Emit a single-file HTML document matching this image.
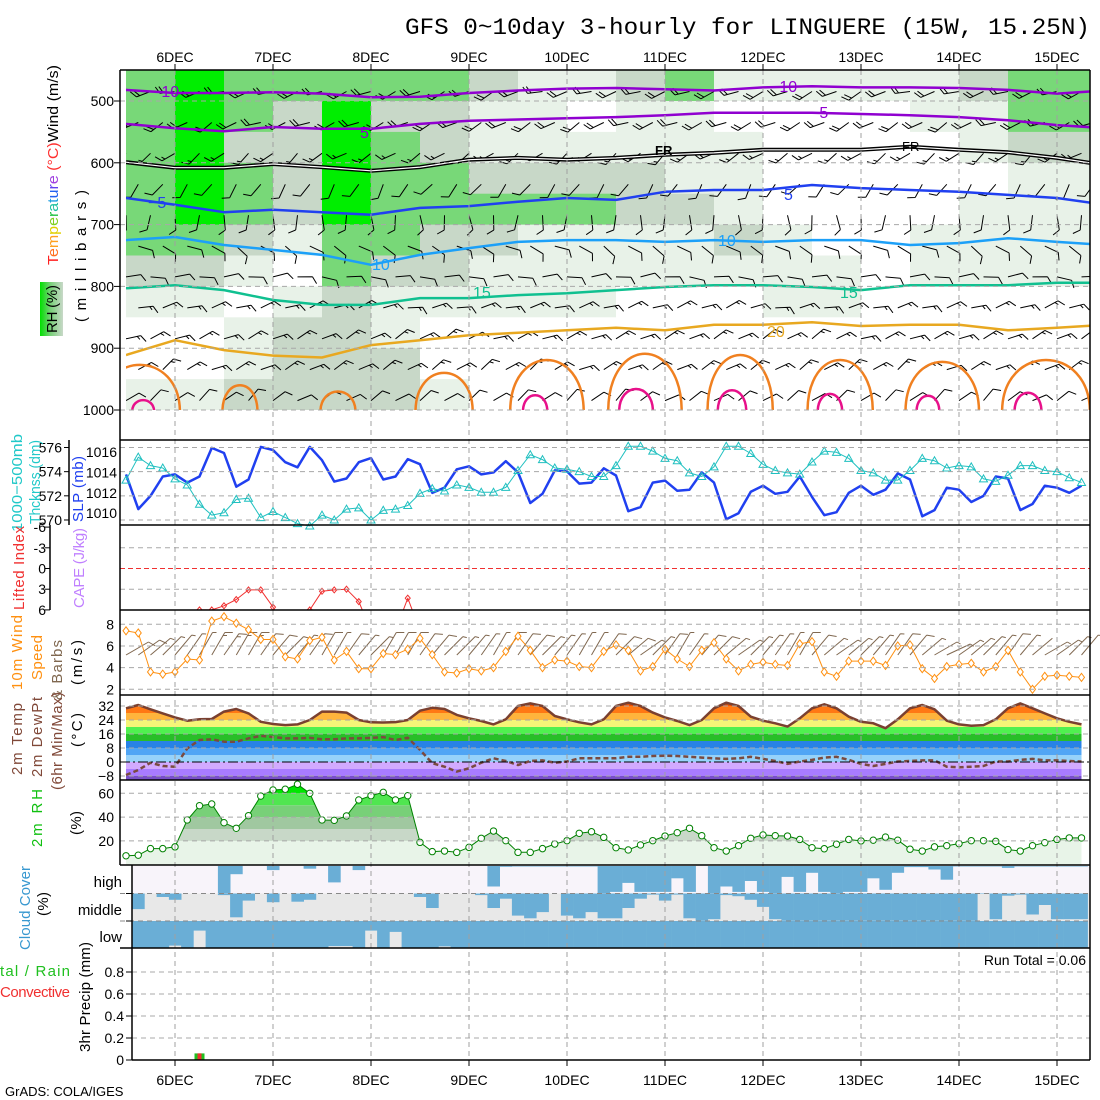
<!DOCTYPE html>
<html><head><meta charset="utf-8"><title>GFS meteogram LINGUERE</title>
<style>
html,body{margin:0;padding:0;background:#fff;}
svg{display:block;font-family:"Liberation Sans",sans-serif;}
.tk{font-size:14px;fill:#000;}
.lb{font-size:15px;}
</style></head>
<body>
<svg id="chart" width="1100" height="1100" viewBox="0 0 1100 1100" xmlns="http://www.w3.org/2000/svg">
<defs>
<clipPath id="clipTop"><rect x="126" y="70" width="964" height="340"/></clipPath>
<clipPath id="clipLI"><rect x="120" y="525" width="970" height="85"/></clipPath>
<linearGradient id="rhLeg" x1="0" x2="1" y1="0" y2="0"><stop offset="0" stop-color="#00e000"/><stop offset="0.45" stop-color="#78d078"/><stop offset="1" stop-color="#c8d8c8"/></linearGradient>
</defs>
<g id="layerBg"></g>
<g id="layerGrid"></g>
<g id="layerData"></g>
<g id="layerAxes"></g>

<text x="405" y="34" font-family="Liberation Mono, monospace" font-size="23" textLength="685" lengthAdjust="spacingAndGlyphs">GFS 0~10day 3-hourly for LINGUERE (15W, 15.25N)</text>

<text transform="translate(58,265) rotate(-90)" class="lb" textLength="200" lengthAdjust="spacingAndGlyphs"><tspan fill="#ff2020">T</tspan><tspan fill="#ff7020">e</tspan><tspan fill="#ffa020">m</tspan><tspan fill="#e0d000">p</tspan><tspan fill="#80d020">e</tspan><tspan fill="#20c040">r</tspan><tspan fill="#20c0a0">a</tspan><tspan fill="#20a0e0">t</tspan><tspan fill="#2060f0">u</tspan><tspan fill="#6040f0">r</tspan><tspan fill="#a040e0">e</tspan><tspan fill="#ff3030"> (°C)</tspan><tspan fill="#000">Wind (m/s)</tspan></text>
<text transform="translate(86,322) rotate(-90)" class="lb" textLength="132" lengthAdjust="spacing">( m i l l i b a r s )</text>
<rect x="40" y="282" width="23" height="54" fill="url(#rhLeg)"/>
<text transform="translate(57,333) rotate(-90)" class="lb" textLength="48">RH (%)</text>

<text transform="translate(22,532) rotate(-90)" class="lb" fill="#20c8c8" textLength="98" lengthAdjust="spacingAndGlyphs">1000−500mb</text>
<text transform="translate(40,524) rotate(-90)" class="lb" fill="#20c8c8" textLength="84" lengthAdjust="spacingAndGlyphs">Thcknss (dm)</text>
<text transform="translate(83,522) rotate(-90)" class="lb" fill="#2040f0" textLength="66">SLP (mb)</text>

<text transform="translate(24,610) rotate(-90)" class="lb" fill="#f03030" textLength="84">Lifted Index</text>
<text transform="translate(84,608) rotate(-90)" class="lb" fill="#c080ff" textLength="80">CAPE (J/kg)</text>

<text transform="translate(22,690) rotate(-90)" class="lb" fill="#ff9010" textLength="75">10m Wind</text>
<text transform="translate(42,680) rotate(-90)" class="lb" fill="#ff9010" textLength="45">Speed</text>
<text transform="translate(62,700) rotate(-90)" class="lb" fill="#806850" textLength="60">&amp; Barbs</text>
<text transform="translate(82,685) rotate(-90)" class="lb" textLength="45">(m/s)</text>

<text transform="translate(22,775) rotate(-90)" class="lb" fill="#804838" textLength="72">2m Temp</text>
<text transform="translate(42,777) rotate(-90)" class="lb" fill="#804838" textLength="80">2m DewPt</text>
<text transform="translate(62,790) rotate(-90)" class="lb" fill="#804838" textLength="98">(6hr Min/Max)</text>
<text transform="translate(82,747) rotate(-90)" class="lb" textLength="34">(°C)</text>

<text transform="translate(42,847) rotate(-90)" class="lb" fill="#10c010" textLength="58">2m RH</text>
<text transform="translate(81,835) rotate(-90)" class="lb" textLength="24">(%)</text>

<text transform="translate(30,950) rotate(-90)" class="lb" fill="#3898d0" textLength="84">Cloud Cover</text>
<text transform="translate(48,916) rotate(-90)" class="lb" textLength="24">(%)</text>
<text x="122" y="887" class="lb" text-anchor="end">high</text>
<text x="122" y="915" class="lb" text-anchor="end">middle</text>
<text x="122" y="942" class="lb" text-anchor="end">low</text>

<text x="0" y="976" class="lb" fill="#20c020" textLength="70">tal / Rain</text>
<text x="0" y="997" class="lb" fill="#f03030" textLength="70">Convective</text>
<text transform="translate(90,1052) rotate(-90)" class="lb" textLength="110">3hr Precip (mm)</text>
<text x="1086" y="965" class="tk" text-anchor="end">Run Total = 0.06</text>
<text x="5" y="1096" font-size="13">GrADS: COLA/IGES</text>

<g font-size="16">
<text x="152" y="97" fill="#9000d0">−10</text>
<text x="770" y="92" fill="#9000d0">−10</text>
<text x="360" y="138" fill="#9000d0">5</text>
<text x="810" y="118" fill="#9000d0">−5</text>
<text x="655" y="155" font-size="13" font-weight="bold" fill="#000">FR</text>
<text x="902" y="151" font-size="13" fill="#000">FR</text>
<text x="148" y="208" fill="#2040f0">−5</text>
<text x="784" y="200" fill="#2040f0">5</text>
<text x="372" y="270" fill="#1ca0f8">10</text>
<text x="718" y="246" fill="#1ca0f8">10</text>
<text x="473" y="298" fill="#10c090">15</text>
<text x="840" y="298" fill="#10c090">15</text>
<text x="767" y="337" fill="#e8a820">20</text>
</g>
</svg>

<script>
// ---------- DATA ----------
const days = ["6DEC","7DEC","8DEC","9DEC","10DEC","11DEC","12DEC","13DEC","14DEC","15DEC"];
const pressureTicks = [500,600,700,800,900,1000];
const thickTicks = [576,574,572,570];
const slpTicks = [1016,1014,1012,1010];
const liTicks = [-6,-3,0,3,6];
const liTickLabels = ["-6","-3","0","3","6"];
const windTicks = [8,6,4,2];
const tempTicks = [32,24,16,8,0,-8];
const rhTicks = [60,40,20];
const precipTicks = [0,0.2,0.4,0.6,0.8];
const precipTickLabels = ["0","0.2","0.4","0.6","0.8"];

const thickness = [573.3,575.2,574.5,574.3,573.4,572.9,571.3,570.4,570.6,571.7,571.8,570.2,570.7,570.2,569.7,569.5,570.4,570.0,570.9,571.0,570.0,570.8,570.9,571.2,572.2,572.6,572.4,572.9,572.7,572.3,572.3,572.7,574.1,575.4,575.0,574.3,574.2,574.0,573.6,573.6,574.5,576.1,576.1,575.7,575.1,574.9,573.9,573.6,574.4,576.1,576.1,575.5,574.6,574.1,573.9,573.8,574.8,575.7,575.6,575.1,574.1,573.9,573.3,573.3,574.1,575.1,574.9,574.3,574.5,574.4,573.4,573.2,573.7,574.5,574.5,574.1,574.0,573.5,573.1];
const slp = [1013.8,1010.4,1011.7,1013.6,1013.8,1013.0,1013.6,1016.4,1015.9,1012.6,1013.3,1016.5,1016.2,1015.0,1014.5,1016.5,1015.2,1013.1,1013.4,1015.0,1015.4,1013.3,1013.6,1015.3,1014.8,1012.0,1012.5,1014.3,1014.6,1013.8,1014.0,1015.1,1014.0,1011.0,1011.9,1014.2,1014.1,1012.9,1013.0,1014.4,1013.7,1010.2,1010.6,1013.0,1013.2,1012.2,1012.3,1014.0,1013.0,1009.4,1010.0,1012.1,1012.7,1011.9,1012.1,1013.6,1011.6,1009.8,1010.1,1012.0,1012.7,1011.8,1012.3,1013.9,1013.3,1009.7,1010.3,1012.5,1012.3,1011.1,1011.7,1013.6,1013.4,1010.3,1010.9,1012.7,1012.5,1012.0,1012.7];
const liftedIndex = [9,9,9,9,9,9,6,6,5.4,4.5,3.1,3.1,5.6,9,9,6,3.3,3.1,3.0,4.8,9,9,9,4.3,9,9,9,9,9,9,9,9,9,9,9,9,9,9,9,9,9,9,9,9,9,9,9,9,9,9,9,9,9,9,9,9,9,9,9,9,9,9,9,9,9,9,9,9,9,9,9,9,9,9,9,9,9,9,9];
const wind10 = [7.4,7.2,3.6,3.4,3.6,4.8,4.7,8.3,8.7,8.1,7.5,6.6,6.6,5.0,4.8,6.5,6.8,4.7,5.5,3.9,3.9,5.3,5.2,5.7,6.7,5.2,3.6,3.5,3.9,3.7,4.0,5.5,6.9,5.6,4.0,4.7,4.6,4.1,4.0,5.5,6.1,5.6,3.7,4.1,5.7,4.8,4.1,5.6,6.3,4.8,3.7,4.3,4.5,4.3,4.2,6.2,6.4,3.6,3.2,4.6,4.6,4.6,4.2,6.0,6.1,3.9,3.0,4.1,4.3,4.4,3.6,4.1,5.6,3.6,2.0,3.2,3.3,3.2,3.1];
const wind10Dir = [60,55,50,45,40,35,30,30,35,30,30,35,40,45,40,35,30,30,35,40,45,30,30,30,35,40,45,45,40,35,30,30,35,40,45,40,35,30,30,35,45,50,55,45,35,30,35,40,45,50,55,45,40,35,30,30,40,50,55,50,45,40,35,35,40,50,60,65,55,50,45,40,35,40,50,60,55,45,40];
const temp2m = [30.7,32.6,30.1,27.8,25.5,23.6,24.4,24.6,28.8,30.3,27.8,23.0,21.7,21.1,21.5,24.0,28.8,28.8,28.2,24.0,22.7,22.6,22.8,24.0,29.3,31.0,30.3,26.9,25.0,23.4,21.5,24.4,32.0,33.5,32.0,26.3,24.4,22.7,21.5,24.4,32.0,33.9,32.0,28.2,25.5,23.4,21.1,24.0,30.7,33.9,32.0,25.9,23.6,22.1,20.2,25.0,30.7,33.0,30.7,25.9,23.0,22.1,19.3,24.4,30.7,32.6,30.1,23.6,21.5,20.7,21.1,24.4,30.7,33.5,30.7,27.8,25.0,23.0,21.5];
const dew2m = [-7.4,-4.6,-0.4,-2.3,-2.7,7.8,12.6,13.0,11.6,11.6,13.5,14.9,14.3,13.5,13.5,13.8,13.0,13.0,13.5,13.5,13.8,14.2,12.6,13.9,6.9,-0.7,-2.7,-5.5,-3.6,-0.4,2.1,0.6,-1.7,0.6,0.9,-0.4,0.3,2.1,2.1,2.1,2.1,3.0,3.0,3.4,3.6,3.4,3.0,2.5,2.1,1.8,2.1,3.0,1.8,0.6,-1.1,0.3,1.2,2.5,3.0,1.2,-1.1,-2.3,-1.1,0.3,0.6,0.9,0.9,-2.7,-3.0,-2.7,-2.3,0.3,0.3,1.2,1.8,0.9,0.9,0.6,0.3];
const rh2m = [7.5,8,13.5,13.5,15,37.6,49.6,51,35.3,30.6,41.2,57.7,62.8,63.4,67.6,60,37.6,37.3,41,54.4,58,60.8,54.4,58,18.8,11,11.5,10.4,14.6,22.2,28.3,20.2,10.4,10.4,13.5,17.4,20.2,26.4,27.7,23,14.3,12.4,16.6,20.2,24.1,26.9,30.6,24.4,14.3,11.5,16,22.2,25,24.4,24.1,21.2,14.3,13.4,17.2,21.2,20,20.6,23.2,20.6,13,11.5,15,16,17.7,20.2,20.2,19.6,12.7,11.5,16,18.5,21.2,22.5,22.5];
const cloudHigh = [0,0,0,0,0,0,0,0,100,30,0,0,15,0,0,10,0,60,0,15,0,0,0,0,0,0,0,0,0,0,75,3,2,2,2,2,2,2,2,100,95,62,95,95,95,45,95,0,100,75,95,55,95,100,40,95,25,95,100,95,95,45,87,25,4,4,13,50,2,2,2,2,7,2,2,2,2,2,2];
const cloudMid = [0,57,0,13,23,0,0,0,6,87,26,0,32,0,30,23,0,0,0,0,0,0,0,0,13,53,0,0,0,6,53,19,81,91,68,0,81,91,68,91,91,53,19,4,26,4,91,100,94,6,10,23,49,94,100,100,100,100,100,100,100,100,100,100,100,100,100,100,100,100,2,94,8,4,77,42,94,94,94];
const cloudLow = [0,100,100,100,90,100,35,100,100,100,100,100,100,100,100,100,100,92,92,100,35,100,40,100,100,100,93,100,100,100,100,100,100,100,100,100,100,100,100,100,100,100,100,100,100,100,100,100,100,100,100,100,100,100,100,100,100,100,100,100,100,100,100,100,100,100,100,100,100,100,100,100,100,100,100,100,100,100,100];
const precipTotal = [0,0,0,0,0,0,0.06,0,0,0,0,0,0,0,0,0,0,0,0,0,0,0,0,0,0,0,0,0,0,0,0,0,0,0,0,0,0,0,0,0,0,0,0,0,0,0,0,0,0,0,0,0,0,0,0,0,0,0,0,0,0,0,0,0,0,0,0,0,0,0,0,0,0,0,0,0,0,0,0];
const precipConv = [0,0,0,0,0,0,0.06,0,0,0,0,0,0,0,0,0,0,0,0,0,0,0,0,0,0,0,0,0,0,0,0,0,0,0,0,0,0,0,0,0,0,0,0,0,0,0,0,0,0,0,0,0,0,0,0,0,0,0,0,0,0,0,0,0,0,0,0,0,0,0,0,0,0,0,0,0,0,0,0];

const rhRowsTop = [450,500,550,600,650,700,750,800,850,900,950];
const rhGrid = [
 [80,80,80,80,80,80,60,40,20,20,40],
 [95,95,95,95,95,80,60,40,20,20,40],
 [80,80,60,80,80,60,40,20,40,40,60],
 [80,60,60,60,60,40,20,40,60,60,60],
 [80,95,95,95,95,80,80,60,60,60,60],
 [80,60,80,80,80,80,60,40,40,60,60],
 [80,60,60,80,80,60,60,40,20,20,40],
 [60,40,40,60,80,60,40,40,20,20,20],
 [40,40,40,60,80,40,40,40,20,20,20],
 [40,20,40,60,80,40,40,40,20,20,20],
 [60,40,40,60,60,40,40,20,20,20,20],
 [80,40,40,40,60,40,40,20,20,20,20],
 [40,20,40,40,40,60,40,20,20,20,20],
 [40,20,20,20,20,40,40,40,20,20,20],
 [40,20,20,20,20,20,40,40,20,20,20],
 [40,20,20,20,20,20,20,20,20,20,20],
 [40,40,20,20,20,40,40,20,20,20,20],
 [60,40,40,20,40,40,40,20,20,20,20],
 [80,80,60,40,40,40,40,20,20,20,20],
 [80,80,60,40,40,40,40,20,20,20,20]];
const isoMinus10 = [482,487,487,486,488,494,493,487,483,480,479,481,483,478,476,478,478,479,482,488,483];
const isoMinus5 = [537,544,549,542,545,545,537,532,530,528,526,523,519,519,519,521,523,526,531,539,544];
const isoZero = [599,608,608,602,607,613,607,595,592,595,592,587,584,579,579,579,574,579,583,592,604];
const isoPlus5 = [657,668,680,676,680,684,673,670,663,657,660,647,644,644,636,641,644,647,652,657,668];
const isoPlus10 = [725,720,733,741,749,765,749,738,728,725,725,728,725,728,725,725,733,730,722,728,733];
const isoPlus15 = [803,798,806,822,830,830,819,819,814,811,806,801,798,798,801,806,798,798,798,794,794];
const isoPlus20 = [911,887,903,912,915,895,887,879,875,871,867,871,862,862,858,864,862,862,871,867,862];
const cell25Hour = [-8.6,15.9,39.9,65.9,91.1,115.1,138.4,162.9,187.9,213.3];
const cell25Dur = [19.6,8.6,8.6,14,18,18,16,16,18,21.5];
const cell25Top = [927,960,970,940,919,909,911,919,922,919];
const cell30Hour = [-7.8,88.2,112.9,136.4,160.4,184.4,208.9];
const cell30Dur = [5.4,6,8.3,7,6,5.6,6.6];
const cell30Top = [984,976,966,968,974,977,972];
const barbLevels = [475,525,575,625,675,725,775,825,875,925,975];
const barbDirLevel = [250,245,235,215,180,120,90,75,65,60,55];
const barbSpdLevel = [10,10,8,6,5,5,6,8,9,8,7];

// ---------- SCALES ----------
const NS = "http://www.w3.org/2000/svg";
const svg = document.getElementById('chart');
const gBg = document.getElementById('layerBg'), gGrid = document.getElementById('layerGrid'),
      gData = document.getElementById('layerData'), gAx = document.getElementById('layerAxes');
const X0 = 126, STEP = 12.25, DAYX = 98, DAY0X = 175, LEFT = 120, RIGHT = 1090;
const xi = i => X0 + STEP * i;
const xh = h => DAY0X + h * DAYX / 24;
const yP = p => 101 + (p - 500) * 0.618;
const yTh = v => 447.5 + (576 - v) * 12.08;
const ySlp = v => 452 + (1016 - v) * 10.2;
const yLI = v => 568.5 + v * 6.9;
const yW = v => 624.3 + (8 - v) * 10.83;
const yT = v => 706 + (32 - v) * 1.75;
const yR = v => 793.3 + (60 - v) * 1.19;
const yPr = v => 1060 - v * 110;

function mk(tag, attrs, parent) {
  const e = document.createElementNS(NS, tag);
  for (const k in attrs) e.setAttribute(k, attrs[k]);
  parent.appendChild(e);
  return e;
}
const linePath = (arr, yf) => arr.map((v, i) => (i ? 'L' : 'M') + xi(i).toFixed(1) + ',' + yf(v).toFixed(1)).join('');

// ---------- BACKGROUNDS ----------
const rhColor = v => v >= 90 ? '#00ee00' : v >= 70 ? '#78d878' : v >= 50 ? '#c8d8c8' : v >= 30 ? '#e8f2e8' : '#ffffff';
const gRH = mk('g', {'clip-path': 'url(#clipTop)'}, gBg);


rhGrid.forEach((col, c) => {
  col.forEach((v, r) => {
    const x = xh(-12 + 12 * c);
    const cell = mk('rect', {x: x.toFixed(1), y: yP(rhRowsTop[r]).toFixed(1), width: (DAYX / 2 + 0.5).toFixed(1), height: (yP(rhRowsTop[r] + 50) - yP(rhRowsTop[r]) + 0.5).toFixed(1), fill: rhColor(v)}, gRH);
    
    
  });
});

const rowTops = [866, 893.5, 921];
const rowH = 27.3;
const rowBg = ['#f8f4fa', '#e8e8e8', '#e8e8e8'];
const cloudSets = [cloudHigh, cloudMid, cloudLow];
const cloudNames = ['cloud-high', 'cloud-middle', 'cloud-low'];
rowTops.forEach((t, r) => {
  const bg = mk('rect', {x: 132, y: t, width: RIGHT - 132, height: rowH, fill: rowBg[r]}, gBg);
  
  
  cloudSets[r].forEach((v, i) => {
    if (i === 0 || v <= 0) return;
    const x0 = Math.max(132, xi(i) - STEP / 2), x1 = Math.min(RIGHT, xi(i) + STEP / 2 + 0.3);
    const b = mk('rect', {x: x0.toFixed(1), y: t, width: (x1 - x0).toFixed(1), height: (rowH * v / 100).toFixed(1), fill: '#6aaed6'}, gData);
    
    
  });
});

// ---------- GRID ----------
function hgrid(y, x0, col, dash, name) {
  const l = mk('line', {x1: x0, x2: RIGHT, y1: y, y2: y, stroke: col || '#a8a8a8', 'stroke-dasharray': dash || '5,4', 'stroke-width': 1}, gGrid);
  
  
}
pressureTicks.forEach(p => hgrid(yP(p), LEFT, null, null, 'pressure-gridline'));
thickTicks.forEach(v => hgrid(yTh(v), LEFT, null, null, 'thickness-gridline'));
[-3, 3].forEach(v => hgrid(yLI(v), LEFT, null, null, 'li-gridline'));
windTicks.forEach(v => hgrid(yW(v), LEFT, null, null, 'wind-gridline'));
rhTicks.forEach(v => hgrid(yR(v), LEFT, null, null, 'rh-gridline'));
[893.5, 921].forEach(v => hgrid(v, 120, '#888', null, 'cloud-gridline'));
precipTicks.slice(1).forEach(v => hgrid(yPr(v), 132, null, null, 'precip-gridline'));

// ---------- TEMP FILL ----------
const tBands = [[-99,-8,'#7850c8'],[-8,-4,'#a87cff'],[-4,0,'#d2aaff'],[0,4,'#96d2fa'],[4,8,'#50a5f5'],[8,12,'#2882e6'],[12,16,'#28be28'],[16,20,'#50f050'],[20,24,'#f5f578'],[24,28,'#ffb43c'],[28,32,'#ff7814'],[32,99,'#f05000']];
const clipT = mk('clipPath', {id: 'clipTemp'}, svg.querySelector('defs'));
mk('path', {d: linePath(temp2m, yT) + 'L' + xi(temp2m.length - 1) + ',780L' + xi(0) + ',780Z'}, clipT);
const gTF = mk('g', {'clip-path': 'url(#clipTemp)'}, gData);


tBands.forEach(b => {
  const y1 = Math.max(696, yT(Math.min(b[1], 40))), y2 = Math.min(780, yT(Math.max(b[0], -12)));
  const r = mk('rect', {x: xi(0), y: y1.toFixed(1), width: xi(temp2m.length - 1) - xi(0), height: (y2 - y1).toFixed(1), fill: b[2]}, gTF);
  
  
});
tempTicks.forEach(v => hgrid(yT(v), LEFT, v === 0 ? '#000' : '#a8a8a8', v === 0 ? '10,3,2,3' : null, 'temp-gridline'));

// ---------- RH FILL ----------
const rBands = [[0,20,'#e8f4e8'],[20,30,'#c8d8c8'],[30,40,'#a0c8a0'],[40,50,'#78d078'],[50,60,'#50e650'],[60,100,'#00e600']];
const clipR = mk('clipPath', {id: 'clipRH'}, svg.querySelector('defs'));
mk('path', {d: linePath(rh2m, yR) + 'L' + xi(rh2m.length - 1) + ',865L' + xi(0) + ',865Z'}, clipR);
const gRF = mk('g', {'clip-path': 'url(#clipRH)'}, gData);


rBands.forEach(b => {
  const y1 = Math.max(780, yR(b[1])), y2 = Math.min(865, yR(b[0]));
  const r = mk('rect', {x: xi(0), y: y1.toFixed(1), width: xi(rh2m.length - 1) - xi(0), height: (y2 - y1).toFixed(1), fill: b[2]}, gRF);
  
  
});

days.forEach((d, k) => {
  const l = mk('line', {x1: DAY0X + DAYX * k, x2: DAY0X + DAYX * k, y1: 70, y2: 1060, stroke: '#a0a0a0', 'stroke-dasharray': '5,4'}, gGrid);
  
  
});
svg.insertBefore(gGrid, gAx);

// ---------- CROSS-SECTION LINES ----------
const gTop = mk('g', {'clip-path': 'url(#clipTop)'}, gData);


function barb(x, y, dir, spd, L, col, parent, name) {
  const a = dir * Math.PI / 180;
  const ux = Math.sin(a), uy = -Math.cos(a);
  const tx = x + ux * L, ty = y + uy * L;
  let d = 'M' + x.toFixed(1) + ',' + y.toFixed(1) + 'L' + tx.toFixed(1) + ',' + ty.toFixed(1);
  const fa = a + Math.PI / 3;
  const fx = Math.sin(fa), fy = -Math.cos(fa);
  let n = spd / 5, k = 0;
  while (n >= 0.5) {
    const fl = n >= 1 ? 8 : 4;
    const bx = tx - ux * k * 3.5, by = ty - uy * k * 3.5;
    d += 'M' + bx.toFixed(1) + ',' + by.toFixed(1) + 'l' + (fx * fl).toFixed(1) + ',' + (fy * fl).toFixed(1);
    n -= 1; k++;
  }
  const p = mk('path', {d: d, stroke: col, fill: 'none', 'stroke-width': 1}, parent);
  
  
}
barbLevels.forEach((p, r) => {
  for (let i = (r % 2); i < 80; i += 2) {
    barb(xi(i), yP(p) + 6, barbDirLevel[r] + ((i * 37 + r * 11) % 30 - 15), barbSpdLevel[r], 15, '#000', gTop, 'upper-wind-barb');
  }
});
function iso(arr, col, w, name) {
  const d = arr.map((p, k) => (k ? 'L' : 'M') + xh(-12 + 12 * k).toFixed(1) + ',' + yP(p).toFixed(1)).join('');
  const e = mk('path', {d: d, stroke: col, 'stroke-width': w, fill: 'none', 'stroke-linejoin': 'round'}, gTop);
  
  
}
iso(isoMinus10, '#9000d0', 2.5, 'isotherm-minus10');
iso(isoMinus5, '#9000d0', 2.5, 'isotherm-minus5');
iso(isoZero, '#000', 4, 'isotherm-freezing');
iso(isoZero, '#fff', 1.2, 'isotherm-freezing-inner');
iso(isoPlus5, '#2040f0', 2.5, 'isotherm-plus5');
iso(isoPlus10, '#1ca0f8', 2.5, 'isotherm-plus10');
iso(isoPlus15, '#10c090', 2.5, 'isotherm-plus15');
iso(isoPlus20, '#e8a820', 2.5, 'isotherm-plus20');
function cells(hours, durs, tops, col, name) {
  hours.forEach((h, k) => {
    const x0 = xh(h - durs[k] / 2), x1 = xh(h + durs[k] / 2);
    const yb = yP(1000) + 2, yc = yb + (yP(tops[k]) - yb) / 0.75;
    const e = mk('path', {d: 'M' + x0.toFixed(1) + ',' + yb + 'C' + x0.toFixed(1) + ',' + yc.toFixed(1) + ' ' + x1.toFixed(1) + ',' + yc.toFixed(1) + ' ' + x1.toFixed(1) + ',' + yb, stroke: col, 'stroke-width': 2.5, fill: 'none'}, gTop);
    
    
  });
}
cells(cell25Hour, cell25Dur, cell25Top, '#f08020', 'isotherm-plus25-cell');
cells(cell30Hour, cell30Dur, cell30Top, '#e8108a', 'isotherm-plus30-cell');

// ---------- SERIES ----------
function series(arr, yf, col, w, name, parent) {
  const e = mk('path', {d: linePath(arr, yf), stroke: col, 'stroke-width': w, fill: 'none', 'stroke-linejoin': 'round'}, parent || gData);
  
  
  return e;
}
series(slp, ySlp, '#2040f0', 2.5, 'slp-line');
series(thickness, yTh, '#20c0c0', 1, 'thickness-line');
thickness.forEach((v, i) => {
  const x = xi(i), y = yTh(v);
  const m = mk('path', {d: `M${x - 4},${y + 3}L${x},${y - 4}L${x + 4},${y + 3}Z`, stroke: '#20c0c0', fill: 'none', 'stroke-width': 1}, gData);
  
  
});
const gLI = mk('g', {'clip-path': 'url(#clipLI)'}, gData);


series(liftedIndex, yLI, '#f03030', 1, 'lifted-index-line', gLI);
liftedIndex.forEach((v, i) => {
  if (v > 6) return;
  const x = xi(i), y = yLI(v);
  const m = mk('path', {d: `M${x},${y - 3}L${x + 2.5},${y}L${x},${y + 3}L${x - 2.5},${y}Z`, stroke: '#f03030', fill: 'none'}, gLI);
  
  
});
const liZero = mk('line', {x1: LEFT, x2: RIGHT, y1: yLI(0), y2: yLI(0), stroke: '#f03030', 'stroke-dasharray': '5,3'}, gData);



wind10.forEach((v, i) => barb(xi(i), 655, wind10Dir[i], v, 26, '#806850', gData, 'wind10-barb'));
series(wind10, yW, '#ff9010', 1, 'wind10-speed-line');
wind10.forEach((v, i) => {
  const x = xi(i), y = yW(v);
  const m = mk('path', {d: `M${x},${y - 4}L${x + 3},${y}L${x},${y + 4}L${x - 3},${y}Z`, stroke: '#ff9010', fill: '#fff'}, gData);
  
  
});

series(temp2m, yT, '#7a4030', 2.5, 'temp2m-line');
series(dew2m, yT, '#7a4a40', 2.5, 'dewpoint-line').setAttribute('stroke-dasharray', '5,3');

series(rh2m, yR, '#008000', 1, 'rh2m-line');
rh2m.forEach((v, i) => {
  const c = mk('circle', {cx: xi(i), cy: yR(v), r: 3.2, fill: '#fff', stroke: '#008000'}, gData);
  
  
});

precipTotal.forEach((v, i) => {
  if (v <= 0) return;
  const b = mk('rect', {x: xi(i) - 5, y: yPr(v), width: 10, height: 1060 - yPr(v), fill: '#20c020'}, gData);
  
  
  const c = mk('rect', {x: xi(i) - 2, y: yPr(precipConv[i]), width: 4, height: 1060 - yPr(precipConv[i]), fill: '#f03030'}, gData);
  
  
});

// ---------- AXES / FRAMES ----------
function ln(x1, y1, x2, y2, name, w) {
  const l = mk('line', {x1: x1, y1: y1, x2: x2, y2: y2, stroke: '#000', 'stroke-width': w || 1.5}, gAx);
  
  
}
function tx(x, y, s, name, anchor, col) {
  const t = mk('text', {x: x, y: y, class: 'tk', 'text-anchor': anchor || 'end', fill: col || '#000'}, gAx);
  t.textContent = s;
  
  
}
ln(LEFT, 70, RIGHT, 70, 'frame-top');
ln(LEFT, 70, LEFT, 865, 'frame-left');
ln(132, 865, 132, 1060, 'frame-left-lower');
ln(RIGHT, 70, RIGHT, 1060, 'frame-right');
[440, 525, 610, 695, 780, 865, 948].forEach(y => ln(LEFT, y, RIGHT, y, 'panel-divider'));
ln(132, 1060, RIGHT, 1060, 'frame-bottom');
ln(69, 440, 69, 525, 'thickness-axis');
ln(50, 525, 50, 610, 'li-axis');
days.forEach((d, k) => {
  const x = DAY0X + DAYX * k;
  tx(x, 62, d, 'date-label-top', 'middle');
  tx(x, 1085, d, 'date-label-bottom', 'middle');
  ln(x, 64, x, 70, 'date-tick-top', 1);
  ln(x, 1060, x, 1066, 'date-tick-bottom', 1);
});
pressureTicks.forEach(p => { tx(114, yP(p) + 5, String(p), 'pressure-tick-label'); ln(114, yP(p), LEFT, yP(p), 'pressure-tick', 1); });
thickTicks.forEach(v => { tx(62, yTh(v) + 5, String(v), 'thickness-tick-label'); ln(64, yTh(v), 69, yTh(v), 'thickness-tick', 1); });
slpTicks.forEach(v => tx(117, ySlp(v) + 5, String(v), 'slp-tick-label'));
liTicks.forEach((v, k) => { tx(46, yLI(v) + 5, liTickLabels[k], 'li-tick-label'); ln(45, yLI(v), 50, yLI(v), 'li-tick', 1); });
windTicks.forEach(v => tx(114, yW(v) + 5, String(v), 'wind-tick-label'));
tempTicks.forEach(v => tx(114, yT(v) + 5, v < 0 ? '−' + (-v) : String(v), 'temp-tick-label'));
rhTicks.forEach(v => tx(114, yR(v) + 5, String(v), 'rh-tick-label'));
precipTicks.forEach((v, k) => { tx(124, yPr(v) + 5, precipTickLabels[k], 'precip-tick-label'); ln(126, yPr(v), 132, yPr(v), 'precip-tick', 1); });
[893.5, 921, 948].forEach(y => ln(126, y, 132, y, 'cloud-tick', 1));
</script>
</body></html>
